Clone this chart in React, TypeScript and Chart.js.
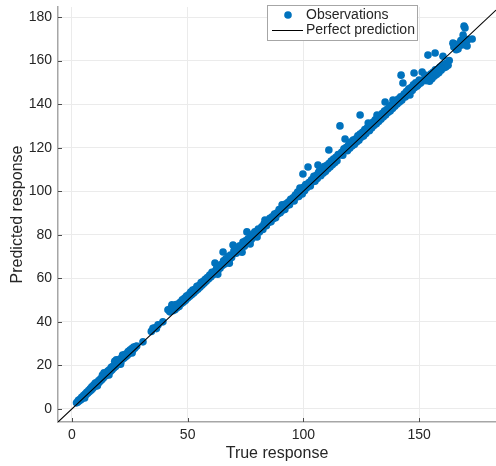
import { useEffect, useRef } from 'react';
import { Chart, registerables } from 'chart.js';

Chart.register(...registerables);

// Observed (true) responses and the model's predictions, in matching order.
const trueResponse = [
  2.0, 2.4, 2.8, 3.1, 3.5, 3.9, 4.2, 4.6, 5.0, 5.3,
  5.5, 5.7, 6.1, 6.4, 6.8, 7.2, 7.5, 7.9, 8.3, 8.6,
  9.0, 9.4, 9.8, 10.1, 10.5, 10.9, 11.0, 11.3, 11.6, 12.0,
  12.4, 12.8, 13.2, 13.5, 13.9, 14.3, 14.7, 15.1, 15.5, 15.8,
  16.0, 16.2, 16.6, 17.0, 17.3, 17.7, 18.1, 18.5, 18.9, 19.2,
  19.6, 20.0, 20.4, 20.8, 21.0, 21.2, 21.5, 21.9, 22.3, 22.7,
  23.1, 23.5, 23.9, 24.3, 24.7, 25.1, 25.5, 25.9, 26.0, 26.3,
  26.7, 27.1, 27.6, 28.0,
  30.7, 34.3, 35.0, 35.8, 36.5, 37.2, 39.3,
  41.5, 42.3, 42.8, 43.2, 43.6, 44.1, 44.5, 45.0, 45.4, 45.9,
  46.3, 46.8, 47.2, 47.7, 48.1, 48.6, 49.0, 49.5, 49.9, 50.4,
  50.8, 51.3, 51.7, 52.2, 52.6, 53.1, 53.5, 54.0, 54.4, 54.9,
  55.3, 55.8, 56.2, 56.7, 57.1, 57.6, 58.0,
  58.5, 59.0, 59.5, 60.0, 60.5, 61.0, 61.5, 61.8, 62.0, 62.5,
  63.0, 63.0, 63.5, 64.0, 64.5, 65.0, 65.3, 65.5, 66.0, 66.5,
  67.0, 67.5, 68.0, 68.0, 68.5, 69.0, 69.6, 70.0, 70.9, 71.0,
  71.5, 72.0, 72.5, 73.0, 73.5, 73.9, 74.0, 74.5, 75.0, 75.5,
  75.6, 76.0, 76.5, 77.0, 77.0, 77.5, 78.0,
  78.5, 79.0, 79.5, 80.0, 80.5, 81.0, 82.0, 82.5, 83.0, 83.4,
  84.0, 84.5, 85.0, 85.5, 86.0, 86.5, 87.0, 87.5, 88.0, 88.5,
  89.0, 89.5, 90.0, 90.8, 91.0, 91.5, 92.0, 92.5, 93.0, 93.5,
  94.0, 94.5, 95.0, 95.5, 96.0, 96.5, 97.0, 97.5, 98.0, 98.5,
  99.0, 99.5, 99.8,
  100.0, 100.5, 101.0, 101.5, 102.0, 102.4, 103.0, 103.5, 104.0, 104.5,
  105.0, 105.5, 106.0, 106.3, 106.5, 107.0, 107.5, 108.0, 108.5, 109.0,
  109.5, 110.0, 110.5, 111.0, 111.0, 111.5, 112.0, 112.5, 113.0, 113.5,
  114.0, 114.5, 115.0, 115.8, 115.8, 116.5, 117.0, 117.5, 118.0, 118.4,
  119.0, 119.5, 120.0,
  120.5, 121.0, 121.5, 122.0, 122.5, 123.0, 123.5, 124.0, 124.5, 124.5,
  125.0, 125.5, 126.0, 126.5, 127.0, 127.5, 128.0, 128.5, 129.0, 129.5,
  130.0, 130.5, 131.0, 131.5, 131.8, 132.0, 132.5, 133.0, 133.5, 134.0,
  134.5, 135.0, 135.3, 135.5, 136.0, 136.5, 137.0, 137.5, 138.0, 138.5,
  138.7, 139.0, 139.5, 140.0, 140.5, 141.0, 141.5, 142.0, 142.2, 142.5,
  143.0, 143.5, 144.0, 144.5, 145.0, 145.5, 146.0, 146.5, 147.0, 147.5,
  147.8, 148.0, 148.5, 149.0, 149.5, 150.0,
  150.5, 151.0, 151.3, 152.0, 152.5, 153.0, 153.4, 153.8, 154.0, 154.5,
  155.0, 155.5, 156.0, 156.5, 156.9, 157.0, 157.5, 158.0, 158.5, 159.0,
  159.5, 160.0, 160.3, 160.5, 161.0, 161.5, 162.0, 162.5, 163.0, 164.6,
  165.0, 165.5, 166.0, 166.8, 167.5, 168.0, 168.5, 169.0, 169.4, 169.8,
  170.0, 170.7, 171.0, 172.9,
];

const predictedResponse = [
  2.8, 3.1, 4.0, 3.6, 4.4, 4.2, 5.3, 5.0, 6.1, 5.6,
  5.0, 6.8, 6.5, 7.6, 7.2, 8.5, 7.9, 9.3, 8.6, 10.2,
  9.4, 11.0, 10.3, 11.9, 10.9, 12.2, 10.6, 11.7, 13.0, 12.5,
  13.8, 13.3, 15.6, 14.1, 16.6, 15.0, 16.2, 15.6, 17.4, 16.4,
  15.6, 18.0, 17.2, 19.1, 17.9, 19.6, 18.8, 21.9, 19.5, 22.6,
  20.3, 21.8, 21.1, 22.9, 20.5, 21.7, 23.4, 24.8, 23.2, 24.9,
  23.8, 25.3, 24.5, 26.4, 25.5, 27.0, 26.3, 27.7, 25.7, 27.0,
  28.4, 27.9, 28.7, 28.9,
  30.8, 35.6, 37.0, 37.3, 36.9, 38.6, 40.0,
  45.5, 44.6, 46.3, 47.8, 45.1, 46.8, 45.6, 47.9, 46.5, 48.2,
  47.1, 49.0, 48.3, 50.1, 49.0, 50.8, 49.8, 51.9, 50.8, 52.4,
  51.6, 53.7, 52.5, 54.6, 53.3, 55.0, 54.2, 56.3, 55.0, 56.7,
  55.9, 58.1, 56.8, 58.6, 57.7, 59.5, 58.6,
  60.4, 59.7, 61.5, 60.6, 62.7, 61.6, 63.0, 67.0, 62.8, 64.6,
  63.5, 61.9, 65.8, 64.6, 66.3, 65.9, 72.1, 68.0, 66.6, 68.9,
  67.8, 70.0, 68.5, 66.9, 70.7, 69.6, 75.3, 72.6, 74.2, 71.5,
  73.8, 72.7, 74.9, 73.4, 72.0, 76.7, 75.3, 74.7, 77.2, 76.0,
  81.3, 78.0, 76.9, 79.1, 75.8, 77.8, 80.2,
  79.0, 81.4, 79.8, 79.0, 82.6, 81.3, 83.6, 82.4, 85.0, 86.8,
  84.1, 86.3, 85.6, 87.5, 86.0, 88.2, 87.4, 89.5, 87.8, 90.0,
  89.5, 91.6, 90.1, 93.7, 91.2, 93.0, 91.6, 94.2, 93.4, 95.0,
  93.8, 96.3, 95.6, 97.0, 95.5, 98.2, 97.3, 99.6, 97.6, 101.5,
  100.1, 98.7, 107.9,
  101.8, 100.2, 103.0, 101.6, 111.1, 104.0, 102.4, 105.2, 104.3, 106.8,
  104.6, 107.2, 105.8, 112.0, 108.6, 109.5, 107.1, 110.0, 108.3, 111.3,
  109.0, 111.8, 110.2, 118.9, 112.7, 111.1, 113.9, 112.2, 114.8, 113.1,
  115.6, 114.0, 116.8, 116.6, 130.0, 117.9, 116.5, 119.5, 124.0, 120.0,
  118.6, 121.2, 119.7,
  122.6, 120.8, 123.5, 121.5, 124.0, 122.6, 125.5, 123.4, 135.0, 126.2,
  124.8, 127.0, 125.4, 128.3, 126.5, 129.0, 131.3, 127.8, 130.5, 129.0,
  131.6, 130.2, 132.8, 131.0, 135.0, 133.6, 132.0, 134.5, 133.0, 135.7,
  134.1, 136.8, 141.0, 135.0, 137.5, 136.1, 138.4, 136.8, 139.6, 138.0,
  141.9, 140.5, 139.0, 141.6, 140.0, 142.3, 141.0, 143.4, 153.3, 141.8,
  149.7, 144.6, 143.3, 145.8, 144.5, 147.0, 144.2, 147.6, 146.3, 148.9,
  154.3, 147.5, 149.8, 148.2, 148.8, 151.0,
  149.6, 150.2, 154.7, 151.0, 153.3, 150.8, 152.0, 162.5, 152.6, 150.5,
  153.8, 151.7, 154.6, 152.8, 163.5, 155.7, 153.6, 156.0, 154.4, 157.0,
  155.6, 157.8, 162.0, 156.6, 158.4, 157.0, 158.9, 157.8, 160.0, 168.0,
  166.2, 167.6, 165.0, 165.3, 167.0, 169.2, 167.2, 171.7, 175.8, 175.0,
  168.5, 166.7, 169.6, 169.9,
];

// Axis extents and tick labels
const xLimits = [-6, 183.2];
const yLimits = [-6, 184.6];
const xTickValues = [0, 50, 100, 150];
const yTickValues = [0, 20, 40, 60, 80, 100, 120, 140, 160, 180];

const OBS_COLOR = '#0072BD';
const TEXT_COLOR = '#262626';
const FONT = '"Liberation Sans", Arial, Helvetica, sans-serif';

// MATLAB-style inward tick marks plus a boxed legend in the upper area.
const decorations = {
  id: 'decorations',
  afterDraw(chart: any) {
    const { ctx, chartArea, scales } = chart;
    ctx.save();
    ctx.strokeStyle = '#4d4d4d';
    ctx.lineWidth = 1;
    ctx.beginPath();
    for (const v of xTickValues) {
      const px = Math.round(scales.x.getPixelForValue(v)) + 0.5;
      ctx.moveTo(px, chartArea.bottom);
      ctx.lineTo(px, chartArea.bottom - 4);
    }
    for (const v of yTickValues) {
      const py = Math.round(scales.y.getPixelForValue(v)) + 0.5;
      ctx.moveTo(chartArea.left, py);
      ctx.lineTo(chartArea.left + 4, py);
    }
    ctx.stroke();

    // legend box
    const bx = 267.5, by = 5.5, bw = 150, bh = 35;
    ctx.fillStyle = '#ffffff';
    ctx.fillRect(bx, by, bw, bh);
    ctx.strokeStyle = '#a6a6a6';
    ctx.lineWidth = 1;
    ctx.strokeRect(bx, by, bw, bh);

    ctx.fillStyle = OBS_COLOR;
    ctx.beginPath();
    ctx.arc(288, 15, 3.8, 0, Math.PI * 2);
    ctx.fill();

    ctx.strokeStyle = '#000000';
    ctx.beginPath();
    ctx.moveTo(272, 30.5);
    ctx.lineTo(303, 30.5);
    ctx.stroke();

    ctx.fillStyle = TEXT_COLOR;
    ctx.font = `14px ${FONT}`;
    ctx.textAlign = 'left';
    ctx.textBaseline = 'middle';
    ctx.fillText('Observations', 306, 15.5);
    ctx.fillText('Perfect prediction', 306, 30.5);
    ctx.restore();
  },
};

export default function App() {
  const canvasRef = useRef<HTMLCanvasElement | null>(null);

  useEffect(() => {
    if (!canvasRef.current) return;
    const points = trueResponse.map((t, i) => ({ x: t, y: predictedResponse[i] }));

    const chart = new Chart(canvasRef.current, {
      type: 'scatter',
      data: {
        datasets: [
          {
            type: 'line',
            label: 'Perfect prediction',
            data: [
              { x: xLimits[0], y: xLimits[0] },
              { x: xLimits[1], y: xLimits[1] },
            ],
            borderColor: '#000000',
            borderWidth: 1.1,
            pointRadius: 0,
            fill: false,
            order: 0,
          },
          {
            label: 'Observations',
            data: points,
            backgroundColor: OBS_COLOR,
            borderWidth: 0,
            pointRadius: 3.8,
            order: 1,
          },
        ],
      } as any,
      options: {
        responsive: false,
        animation: false,
        devicePixelRatio: 1,
        layout: { autoPadding: false, padding: { top: 7, right: 0, left: 0, bottom: 0 } },
        plugins: {
          legend: { display: false },
          tooltip: { enabled: false },
        },
        scales: {
          x: {
            type: 'linear',
            min: xLimits[0],
            max: xLimits[1],
            afterBuildTicks: (axis: any) => {
              axis.ticks = xTickValues.map((v) => ({ value: v }));
            },
            afterFit: (axis: any) => {
              axis.height = 44;
              axis.paddingLeft = 0;
              axis.paddingRight = 0;
            },
            grid: { color: '#ebebeb', lineWidth: 1, drawTicks: false },
            border: { display: true, color: '#a6a6a6', width: 1.5 },
            ticks: {
              color: TEXT_COLOR,
              font: { family: FONT, size: 14 },
              padding: 5,
              maxRotation: 0,
            },
            title: {
              display: true,
              text: 'True response',
              color: TEXT_COLOR,
              font: { family: FONT, size: 16 },
              padding: { top: 0, bottom: 3 },
            },
          },
          y: {
            type: 'linear',
            min: yLimits[0],
            max: yLimits[1],
            afterBuildTicks: (axis: any) => {
              axis.ticks = yTickValues.map((v) => ({ value: v }));
            },
            afterFit: (axis: any) => {
              axis.width = 58;
              axis.paddingTop = 0;
              axis.paddingBottom = 0;
            },
            grid: { color: '#ebebeb', lineWidth: 1, drawTicks: false },
            border: { display: true, color: '#a6a6a6', width: 1.5 },
            ticks: {
              color: TEXT_COLOR,
              font: { family: FONT, size: 14 },
              padding: 6,
            },
            title: {
              display: true,
              text: 'Predicted response',
              color: TEXT_COLOR,
              font: { family: FONT, size: 16 },
              padding: { top: 8, bottom: 0 },
            },
          },
        },
      },
      plugins: [decorations],
    });

    return () => chart.destroy();
  }, []);

  return (
    <div style={{ position: 'absolute', left: 0, top: 0, width: 496, height: 466, background: '#ffffff' }}>
      <canvas ref={canvasRef} width={496} height={466} />
    </div>
  );
}
